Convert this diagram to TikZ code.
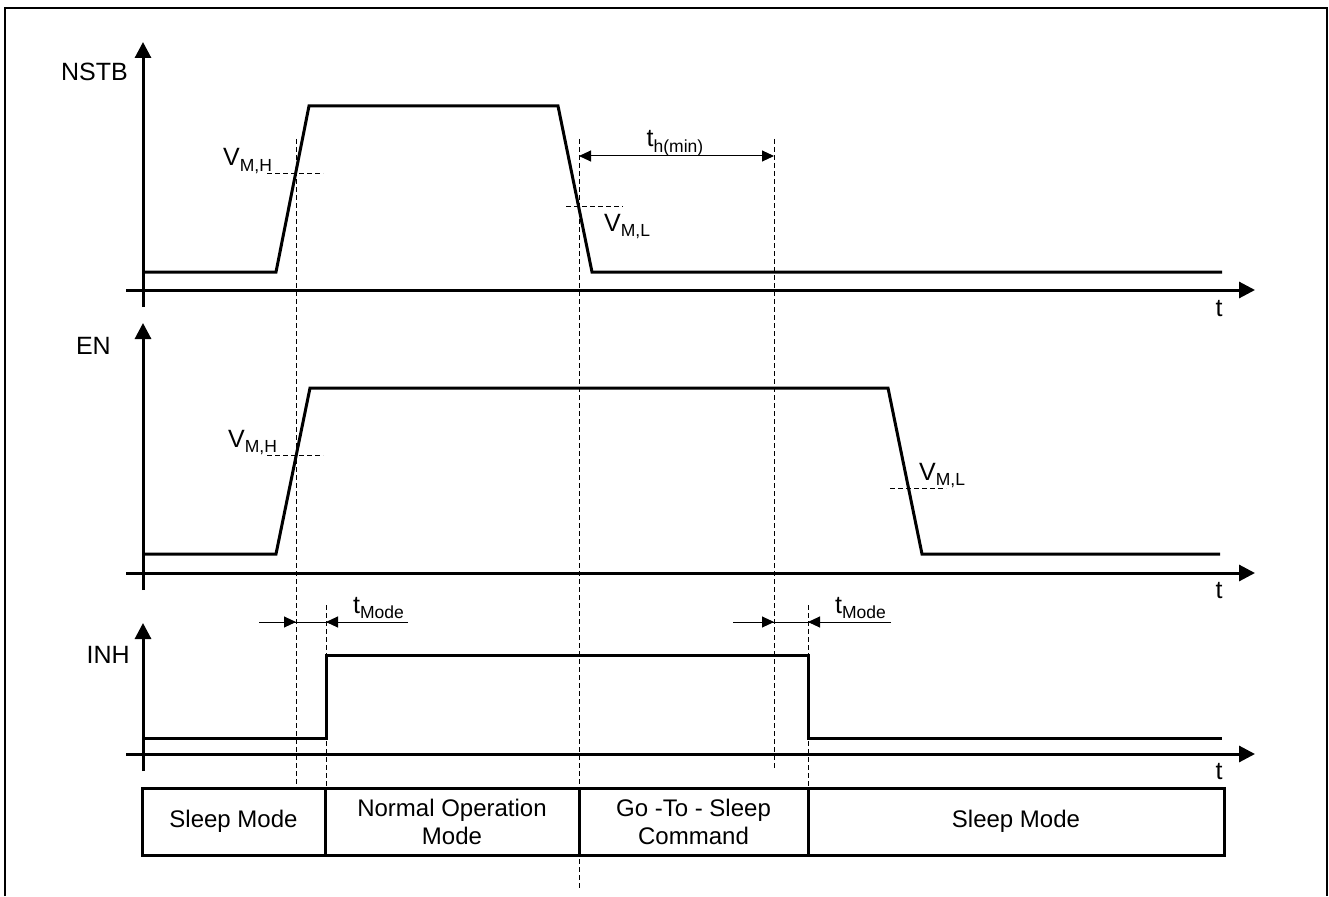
\documentclass[tikz,border=0pt]{standalone}
\usepackage{fontspec}
\setmainfont{Liberation Sans}
\usetikzlibrary{arrows.meta}
\newcommand\sbs[1]{\raisebox{-0.45ex}{\fontsize{17.5}{17.5}\selectfont #1}}
\begin{document}
\begin{tikzpicture}[x=1pt,y=-1pt,
  sig/.style={line width=3pt, line join=miter},
  axis/.style={line width=3pt,-{Triangle[length=16pt,width=16pt]}},
  guide/.style={line width=0.9pt,dash pattern=on 5pt off 3pt},
  dimline/.style={line width=1pt},
  dimtip/.style={line width=1pt,-{Triangle[length=12pt,width=11pt]}},
  lbl/.style={font=\fontsize{25}{28}\selectfont, inner sep=0pt},
  modebox/.style={draw, line width=3pt, minimum height=67pt, align=center,
    font=\fontsize{24}{28}\selectfont, inner sep=0pt}]
\useasboundingbox (0,0) rectangle (1329,896);
\draw[line width=1.5pt] (5,896) -- (5,8) -- (1327,8) -- (1327,896);

% axes
\coordinate (y1b) at (143,307); \coordinate (y1t) at (143,42);
\coordinate (x1b) at (126,290); \coordinate (x1t) at (1255,290);
\coordinate (y2b) at (143,590); \coordinate (y2t) at (143,323);
\coordinate (x2b) at (126,573); \coordinate (x2t) at (1255,573);
\coordinate (y3b) at (143,771); \coordinate (y3t) at (143,623);
\coordinate (x3b) at (126,754); \coordinate (x3t) at (1255,754);
\draw[axis] (y1b) -- (y1t);
\draw[axis] (x1b) -- (x1t);
\draw[axis] (y2b) -- (y2t);
\draw[axis] (x2b) -- (x2t);
\draw[axis] (y3b) -- (y3t);
\draw[axis] (x3b) -- (x3t);

\node[lbl, anchor=base east] (nstb) at (128,81) {NSTB};
\node[lbl, anchor=base east] (en) at (111,354) {EN};
\node[lbl, anchor=base east] (inh) at (130,663) {INH};
\node[lbl, anchor=base] (t1) at (1219,316) {t};
\node[lbl, anchor=base] (t2) at (1219,598) {t};
\node[lbl, anchor=base] (t3) at (1219,779) {t};

% signals
\draw[sig] (143,272) -- (276,272) -- (309,106) -- (558,106) -- (592,272) -- (1222,272);
\draw[sig] (143,554) -- (276,554) -- (310,388) -- (888,388) -- (922,554) -- (1220,554);
\draw[sig] (143,738) -- (326,738) -- (326,655) -- (808,655) -- (808,738) -- (1222,738);

% guides
\draw[guide] (296,139) -- (296,788);
\draw[guide] (326,605) -- (326,788);
\draw[guide] (579,139) -- (579,890);
\draw[guide] (774,139) -- (774,770);
\draw[guide] (808,605) -- (808,788);
\draw[guide] (267,173) -- (323,173);
\draw[guide] (267,455) -- (323,455);
\draw[guide] (566,206) -- (623,206);
\draw[guide] (890,488) -- (946,488);

\node[lbl, anchor=base west] (vmh1) at (223,166) {V\sbs{M,H}};
\node[lbl, anchor=base west] (vmh2) at (228,447) {V\sbs{M,H}};
\node[lbl, anchor=base west] (vml1) at (604,231) {V\sbs{M,L}};
\node[lbl, anchor=base west] (vml2) at (919,480) {V\sbs{M,L}};

% t_h(min)
\coordinate (tha) at (579,156); \coordinate (thb) at (774,156);
\draw[line width=1pt, {Triangle[length=12pt,width=11pt]}-{Triangle[length=12pt,width=11pt]}] (tha) -- (thb);
\node[lbl, anchor=base] (thl) at (675,147) {t\sbs{h(min)}};

% t_Mode 1
\coordinate (m1a) at (259,622); \coordinate (m1b) at (296,622);
\coordinate (m1c) at (326,622); \coordinate (m1d) at (408,622);
\draw[dimline] (m1a) -- (m1d);
\draw[dimtip] (m1a) -- (m1b);
\draw[dimtip] (m1d) -- (m1c);
\node[lbl, anchor=base west] (tm1) at (353,613) {t\sbs{Mode}};
% t_Mode 2
\coordinate (m2a) at (733,622); \coordinate (m2b) at (774,622);
\coordinate (m2c) at (808,622); \coordinate (m2d) at (891,622);
\draw[dimline] (m2a) -- (m2d);
\draw[dimtip] (m2a) -- (m2b);
\draw[dimtip] (m2d) -- (m2c);
\node[lbl, anchor=base west] (tm2) at (835,613) {t\sbs{Mode}};

% mode boxes
\node[modebox, minimum width=183pt] (b1) at (233.5,821.5) {Sleep Mode};
\node[modebox, minimum width=254pt] (b2) at (452,821.5) {Normal Operation\\Mode};
\node[modebox, minimum width=229pt] (b3) at (693.5,821.5) {Go -To - Sleep\\Command};
\node[modebox, minimum width=416pt] (b4) at (1016,821.5) {Sleep Mode};
\end{tikzpicture}
\end{document}
